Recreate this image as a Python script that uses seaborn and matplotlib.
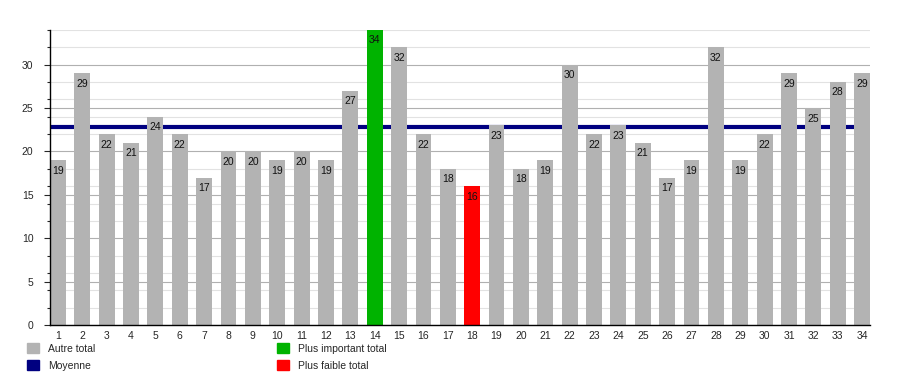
import matplotlib
matplotlib.use("Agg")
import matplotlib.pyplot as plt
from matplotlib.patches import Patch
from matplotlib.ticker import MultipleLocator
import numpy as np
import pandas as pd
import seaborn as sns

# data
days = [str(i) for i in range(1, 35)]
totals = [19, 29, 22, 21, 24, 22, 17, 20, 20, 19, 20, 19, 27, 34, 32, 22, 18, 16,
          23, 18, 19, 30, 22, 23, 21, 17, 19, 32, 19, 22, 29, 25, 28, 29]
legend_labels = ["Autre total", "Moyenne", "Plus important total", "Plus faible total"]

GRAY = "#b3b3b3"
GREEN = "#00b300"
RED = "#ff0000"
NAVY = "#000080"

sns.set_style("white")
plt.rcParams["font.family"] = ["Liberation Sans", "DejaVu Sans"]

df = pd.DataFrame({"day": days, "total": totals})
mean_val = np.mean(totals)
imax = int(np.argmax(totals))
imin = int(np.argmin(totals))
colors = [GREEN if i == imax else RED if i == imin else GRAY for i in range(len(totals))]

fig = plt.figure(figsize=(9, 3.75), dpi=100)
ax = fig.add_axes([50 / 900, 1 - 325 / 375, 820 / 900, 295 / 375])

sns.barplot(data=df, x="day", y="total", hue="day", palette=colors, legend=False,
            width=0.65, saturation=1, linewidth=0, ax=ax, zorder=2)

ax.axhline(mean_val, color=NAVY, lw=3, zorder=1.5)

for i, v in enumerate(totals):
    ax.text(i, v - 1.2, str(v), ha="center", va="center", fontsize=7.5, color="#111111", zorder=3)

ax.set_xlim(-0.325, len(totals) - 0.675)
ax.set_ylim(0, 34)
ax.yaxis.set_major_locator(MultipleLocator(5))
ax.yaxis.set_minor_locator(MultipleLocator(2))
ax.grid(which="major", axis="y", color="#b0b0b0", lw=0.8, zorder=0)
ax.grid(which="minor", axis="y", color="#e2e2e2", lw=0.8, zorder=0)
ax.set_axisbelow(True)

for s in ["top", "right"]:
    ax.spines[s].set_visible(False)
for s in ["left", "bottom"]:
    ax.spines[s].set_color("black")
    ax.spines[s].set_linewidth(1)

ax.tick_params(axis="y", which="major", left=True, length=4, width=0.8, labelsize=7.5, pad=8)
ax.tick_params(axis="y", which="minor", left=True, length=2, width=0.8)
ax.tick_params(axis="x", bottom=False, labelsize=7.5, pad=1)
ax.set_xlabel("")
ax.set_ylabel("")

h1 = [Patch(color=GRAY), Patch(color=NAVY)]
h2 = [Patch(color=GREEN), Patch(color=RED)]
kw = dict(frameon=False, fontsize=7.5, handlelength=1.15, handleheight=1.15,
          handletextpad=0.9, labelspacing=0.6, borderaxespad=0, borderpad=0, loc="upper left")
fig.legend(h1, legend_labels[:2], bbox_to_anchor=(27 / 900, 1 - 343 / 375), **kw)
fig.legend(h2, legend_labels[2:], bbox_to_anchor=(277 / 900, 1 - 343 / 375), **kw)

fig.savefig("out.png", dpi=100)
